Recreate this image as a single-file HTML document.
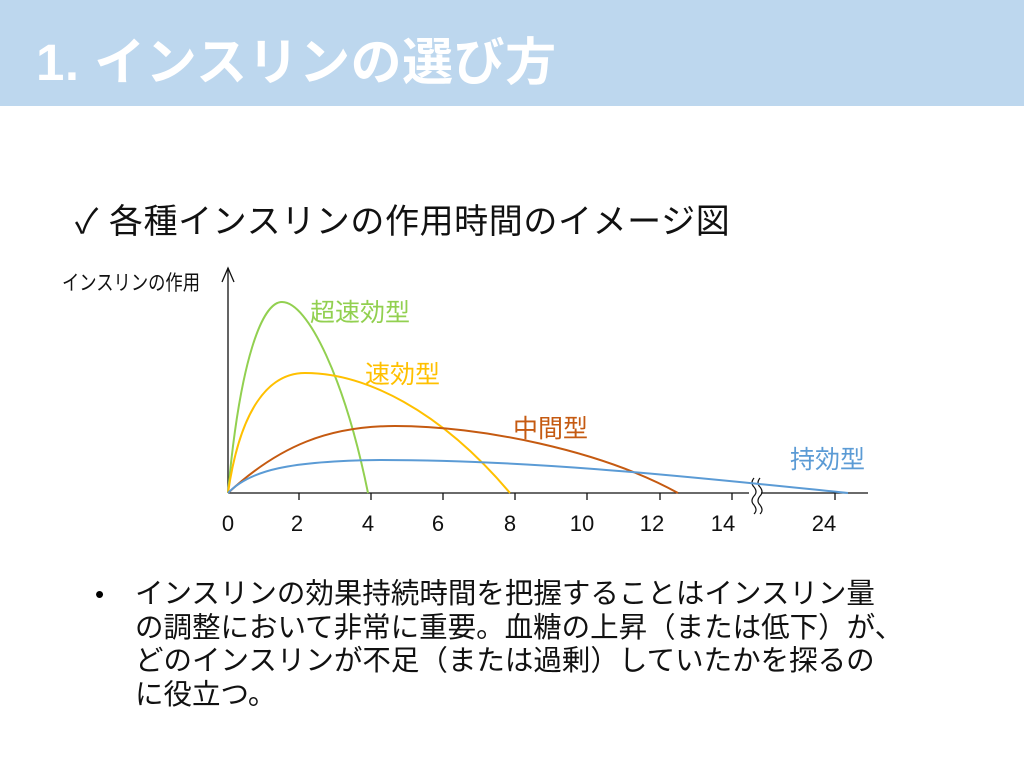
<!DOCTYPE html>
<html><head><meta charset="utf-8"><style>
body{margin:0;width:1024px;height:768px;background:#fff;position:relative;overflow:hidden;font-family:"Liberation Sans","Noto Sans CJK JP",sans-serif;}
.bar{position:absolute;left:0;top:0;width:1024px;height:106px;background:#BDD7EE;}
.title{position:absolute;left:36px;top:21px;font-size:51px;font-weight:bold;color:#fff;white-space:nowrap;letter-spacing:0.5px}
.sub{position:absolute;left:75px;top:194px;font-size:34px;color:#111;white-space:nowrap;letter-spacing:0.6px}
.bul{position:absolute;left:135px;top:578px;font-size:28.5px;line-height:33.5px;color:#111;white-space:nowrap}
.dot{position:absolute;left:95px;top:578px;font-size:26px;line-height:33.5px}
</style></head><body>
<div class="bar"></div>
<div class="title">1. インスリンの選び方</div>
<div class="sub">✓ 各種インスリンの作用時間のイメージ図</div>
<svg width="1024" height="768" style="position:absolute;left:0;top:0" font-family="Liberation Sans, Noto Sans CJK JP, sans-serif">
<g stroke="#111" stroke-width="1.3" fill="none">
<line x1="228" y1="493" x2="228" y2="268"/>
<polyline points="222,282 228,268 234,282"/>
<line x1="228" y1="493" x2="868" y2="493"/>
<g>
<line x1="299" y1="493" x2="299" y2="500"/><line x1="371" y1="493" x2="371" y2="500"/>
<line x1="443" y1="493" x2="443" y2="500"/><line x1="515" y1="493" x2="515" y2="500"/>
<line x1="587" y1="493" x2="587" y2="500"/><line x1="660" y1="493" x2="660" y2="500"/>
<line x1="732" y1="493" x2="732" y2="500"/><line x1="835" y1="493" x2="835" y2="500"/>
</g>
</g>
<rect x="749" y="478" width="12" height="36" fill="#fff"/>
<path d="M754,478 q-4,5 0,9 q4,5 0,9 q-4,5 0,9 q4,5 0,9 M760,478 q-4,5 0,9 q4,5 0,9 q-4,5 0,9 q4,5 0,9" stroke="#111" stroke-width="1.2" fill="none"/>
<g fill="none" stroke-width="2">
<path d="M228,493 C240,360 262,302 282,302 C308,302 345,380 368,493" stroke="#92D050"/>
<path d="M228,493 C240,410 268,373 305,373 C365,373 440,410 510,493" stroke="#FFC000"/>
<path d="M228,493 C280,445 330,426 395,426 C480,426 600,450 678,493" stroke="#C55A11"/>
<path d="M228,493 C250,470 290,461 380,460 C540,460 700,478 848,493" stroke="#5B9BD5"/>
</g>
<g font-size="25">
<text x="310" y="321" fill="#92D050">超速効型</text>
<text x="365" y="383" fill="#FFC000">速効型</text>
<text x="513" y="437" fill="#C55A11">中間型</text>
<text x="790" y="468" fill="#5B9BD5">持効型</text>
</g>
<g font-size="22" fill="#111" text-anchor="middle">
<text x="228" y="531">0</text><text x="297" y="531">2</text><text x="368" y="531">4</text>
<text x="438" y="531">6</text><text x="510" y="531">8</text><text x="582" y="531">10</text>
<text x="652" y="531">12</text><text x="723" y="531">14</text><text x="824" y="531">24</text>
</g>
<text x="62" y="290" font-size="21" fill="#111" textLength="138" lengthAdjust="spacingAndGlyphs">インスリンの作用</text>
</svg>
<div class="dot">•</div>
<div class="bul">インスリンの効果持続時間を把握することはインスリン量<br>の調整において非常に重要。血糖の上昇（または低下）が、<br>どのインスリンが不足（または過剰）していたかを探るの<br>に役立つ。</div>
</body></html>
